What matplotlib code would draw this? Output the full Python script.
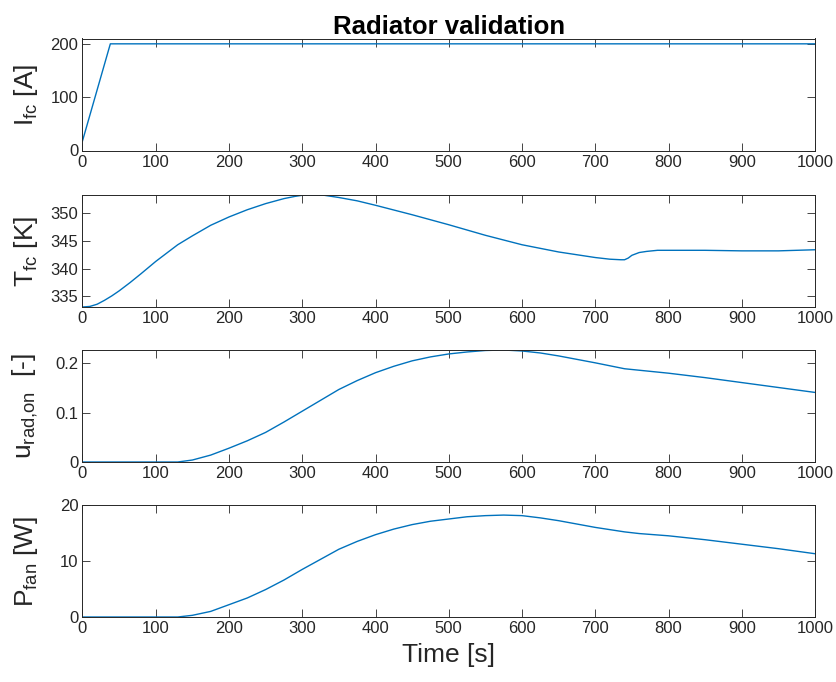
import numpy as np
import matplotlib.pyplot as plt

plt.rcParams['font.family'] = ['Liberation Sans', 'DejaVu Sans']
plt.rcParams['mathtext.fontset'] = 'custom'
plt.rcParams['mathtext.rm'] = 'Liberation Sans'
plt.rcParams['mathtext.it'] = 'Liberation Sans'

# fuel cell current [A]
t_i = [0, 38, 1000]
i_fc = [18, 200, 200]

# fuel cell temperature [K]
t_T = [0, 10, 20, 30, 40, 50, 65, 80, 100, 115, 130, 150, 175, 200, 225, 250, 275,
       290, 300, 315, 330, 350, 375, 400, 450, 500, 550, 600, 650, 700, 720, 735,
       740, 745, 750, 760, 770, 785, 800, 850, 900, 950, 1000]
T_fc = [333.1, 333.2, 333.6, 334.3, 335.1, 336.0, 337.5, 339.1, 341.3, 342.8, 344.3,
        345.9, 347.8, 349.3, 350.6, 351.7, 352.6, 353.0, 353.2, 353.25, 353.2, 352.8,
        352.2, 351.4, 349.7, 347.9, 346.0, 344.3, 343.0, 342.0, 341.7, 341.6, 341.6,
        341.9, 342.4, 342.9, 343.1, 343.3, 343.3, 343.3, 343.2, 343.2, 343.4]

# radiator fan control [-]
t_u = [0, 50, 100, 130, 150, 175, 200, 225, 250, 275, 300, 325, 350, 375, 400, 425,
       450, 475, 500, 525, 550, 575, 600, 625, 650, 675, 700, 720, 740, 760, 800,
       850, 900, 950, 1000]
u_rad = [0, 0, 0, 0, 0.004, 0.014, 0.028, 0.043, 0.060, 0.081, 0.103, 0.125, 0.147,
         0.165, 0.181, 0.194, 0.205, 0.213, 0.219, 0.223, 0.226, 0.227, 0.225, 0.221,
         0.215, 0.208, 0.201, 0.195, 0.189, 0.186, 0.180, 0.171, 0.161, 0.151, 0.141]

# fan power [W]
t_p = [0, 50, 100, 130, 150, 175, 200, 225, 250, 275, 300, 325, 350, 375, 400, 425,
       450, 475, 500, 525, 550, 575, 600, 625, 650, 675, 700, 720, 740, 760, 800,
       850, 900, 950, 1000]
p_fan = [0, 0, 0, 0, 0.3, 1.0, 2.2, 3.4, 4.9, 6.6, 8.5, 10.3, 12.1, 13.5, 14.7, 15.7,
         16.5, 17.1, 17.5, 17.9, 18.1, 18.2, 18.1, 17.7, 17.2, 16.6, 16.0, 15.6, 15.2,
         14.9, 14.5, 13.8, 13.0, 12.2, 11.3]

series = [(t_i, i_fc, r'I$_{\rm fc}$ [A]', (0, 210), [0, 100, 200], ['0', '100', '200']),
          (t_T, T_fc, r'T$_{\rm fc}$ [K]', (333.1, 353.25), [335, 340, 345, 350],
           ['335', '340', '345', '350']),
          (t_u, u_rad, r'u$_{\rm rad{,}on}$  [-]', (0, 0.227), [0, 0.1, 0.2], ['0', '0.1', '0.2']),
          (t_p, p_fan, r'P$_{\rm fan}$ [W]', (0, 20), [0, 10, 20], ['0', '10', '20'])]

fig = plt.figure(figsize=(8.37, 6.82), dpi=100)
tops = [38.5, 195, 350, 505]
h = 112
for k, (t, y, lab, lim, ticks, tlabs) in enumerate(series):
    ax = fig.add_axes([82.5 / 837, 1 - (tops[k] + h) / 682, 732.5 / 837, h / 682])
    ax.plot(t, y, color='#0072BD', lw=1.0)
    ax.set_xlim(0, 1000)
    ax.set_ylim(*lim)
    ax.set_xticks(range(0, 1001, 100))
    ax.set_yticks(ticks)
    ax.set_yticklabels(tlabs)
    ax.tick_params(direction='in', top=True, right=True, labelsize=12,
                   length=6, width=0.6, colors='#262626', pad=3)
    for s in ax.spines.values():
        s.set_color('#262626')
        s.set_linewidth(0.7)
    ax.set_ylabel(lab, fontsize=19, color='#262626')
    ax.yaxis.set_label_coords(-0.058, 0.5)
    if k == 0:
        ax.set_title('Radiator validation', fontsize=18.5, fontweight='bold', pad=3)
    if k == 3:
        ax.set_xlabel('Time [s]', fontsize=19, color='#262626', labelpad=5)

fig.savefig('out.png', dpi=100)
